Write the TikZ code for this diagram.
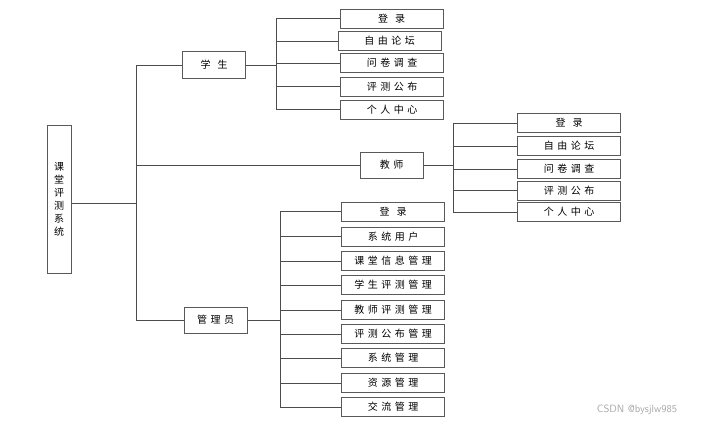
\documentclass[tikz,border=0pt]{standalone}
\usepackage{fontspec}
\newfontfamily\cjk{Noto Sans CJK SC}
\usetikzlibrary{positioning}
\tikzset{
  box/.style={draw=black!65,line width=1pt,fill=white,minimum height=19pt,inner sep=0pt,font=\cjk\fontsize{10}{11}\selectfont},
  sbox/.style={box,minimum width=103pt},
  mbox/.style={box,minimum width=63pt,minimum height=27pt},
  link/.style={draw=black!70,line width=0.8pt}
}
\newcommand{\gap}{\hspace{3.5pt}}
\begin{document}
\begin{tikzpicture}[x=1pt,y=-1pt]
  \useasboundingbox (0,0) rectangle (701,424);
  % root
  \node[box,minimum width=24pt,minimum height=148pt,align=center,font=\cjk\fontsize{10}{13}\selectfont] (root) at (59,199) {课\\堂\\评\\测\\系\\统};
  \coordinate (rt) at (136,203);
  % second level
  \node[mbox] (stu) at (214,65) {学\gap\gap 生};
  \node[mbox,minimum height=26pt] (tea) at (391.5,165) {教\gap 师};
  \node[mbox,minimum height=26pt] (adm) at (215.5,320) {管\gap 理\gap 员};
  % student items
  \node[sbox] (s1) at (391.5,18.5) {登\gap\gap 录};
  \node[sbox] (s2) at (389.5,41) {自\gap 由\gap 论\gap 坛};
  \node[sbox] (s3) at (392,63) {问\gap 卷\gap 调\gap 查};
  \node[sbox] (s4) at (392,86.5) {评\gap 测\gap 公\gap 布};
  \node[sbox] (s5) at (392,109.5) {个\gap 人\gap 中\gap 心};
  % teacher items
  \node[sbox] (t1) at (569,123) {登\gap\gap 录};
  \node[sbox] (t2) at (569,146) {自\gap 由\gap 论\gap 坛};
  \node[sbox] (t3) at (569,169) {问\gap 卷\gap 调\gap 查};
  \node[sbox] (t4) at (569,190.5) {评\gap 测\gap 公\gap 布};
  \node[sbox] (t5) at (569,212) {个\gap 人\gap 中\gap 心};
  % admin items
  \node[sbox] (a1) at (393,211.5) {登\gap\gap 录};
  \node[sbox] (a2) at (393,236.5) {系\gap 统\gap 用\gap 户};
  \node[sbox] (a3) at (393,261) {课\gap 堂\gap 信\gap 息\gap 管\gap 理};
  \node[sbox] (a4) at (393,285) {学\gap 生\gap 评\gap 测\gap 管\gap 理};
  \node[sbox] (a5) at (393,310) {教\gap 师\gap 评\gap 测\gap 管\gap 理};
  \node[sbox] (a6) at (393,334) {评\gap 测\gap 公\gap 布\gap 管\gap 理};
  \node[sbox] (a7) at (393,358) {系\gap 统\gap 管\gap 理};
  \node[sbox] (a8) at (393,383) {资\gap 源\gap 管\gap 理};
  \node[sbox] (a9) at (393,407) {交\gap 流\gap 管\gap 理};
  \coordinate (st) at (276,65);
  \coordinate (tt) at (453,165);
  \coordinate (at) at (280,320);
  % connectors
  \draw[link] (root.east |- rt) -- (rt);
  \draw[link] (rt) |- (stu.west);
  \draw[link] (rt) |- (tea.west);
  \draw[link] (rt) |- (adm.west);
  \draw[link] (stu.east) -- (st);
  \foreach \n in {s1,s2,s3,s4,s5} \draw[link] (st) |- (\n.west);
  \draw[link] (tea.east) -- (tt);
  \foreach \n in {t1,t2,t3,t4,t5} \draw[link] (tt) |- (\n.west);
  \draw[link] (adm.east) -- (at);
  \foreach \n in {a1,a2,a3,a4,a5,a6,a7,a8,a9} \draw[link] (at) |- (\n.west);
  \node[text=black!35,font=\sffamily\fontsize{10.5}{12}\selectfont] (mark) at (637,410) {CSDN @bysjlw985};
\end{tikzpicture}
\end{document}
